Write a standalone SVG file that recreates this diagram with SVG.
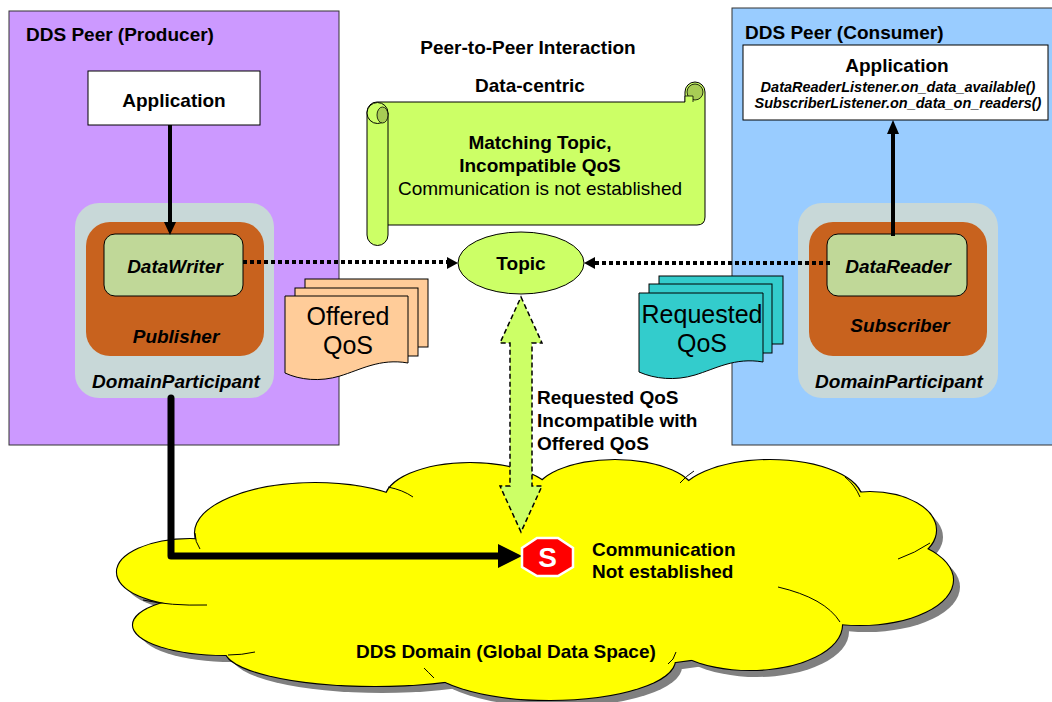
<svg xmlns="http://www.w3.org/2000/svg" width="1052" height="702" viewBox="0 0 1052 702">
<defs>
<style>
text{font-family:"Liberation Sans",Arial,sans-serif;fill:#000}
.b{font-weight:bold;font-size:19px}
.bi{font-weight:bold;font-style:italic;font-size:19px}
.sm{font-weight:bold;font-style:italic;font-size:14.5px}
.big{font-size:25px}
.c{text-anchor:middle}
.ln{stroke:#000;stroke-width:1;fill:none}
.dp{fill:#C8D8D8}
.pub{fill:#C8621E}
.ent{fill:#C0D898;stroke:#000;stroke-width:1}
.dot{stroke:#000;stroke-width:4;stroke-dasharray:4 3;fill:none}
</style>
</defs>

<g id="producer-peer">
<rect x="9" y="11" width="330" height="434" fill="#CC99FF" stroke="#333" stroke-width="1"/>
<text class="b" x="26" y="41">DDS Peer (Producer)</text>
</g>

<g id="consumer-peer">
<rect x="732" y="8" width="322" height="437" fill="#99CCFF" stroke="#333" stroke-width="1"/>
<text class="b" x="745" y="39">DDS Peer (Consumer)</text>
</g>

<g id="title">
<text class="b c" x="528" y="54">Peer-to-Peer Interaction</text>
<text class="b c" x="530" y="92">Data-centric</text>
</g>

<g id="scroll">
<path d="M377,102 L685,102 L685,92 A10,10 0 0 1 705,92 L705,217 Q705,225 697,225 L388,225 L388,235 A10.5,10.5 0 0 1 367,235 L367,112 A10,10 0 0 1 377,102 Z" fill="#CCFF66" stroke="#000" stroke-width="1"/>
<line class="ln" x1="388" y1="113" x2="388" y2="225"/>
<circle cx="377.5" cy="113" r="10.5" fill="#CCFF66" stroke="#000" stroke-width="1"/>
<ellipse cx="382.5" cy="115" rx="5.5" ry="8" fill="#A8CC55" stroke="#000" stroke-width="0.8"/>
<circle cx="695" cy="92" r="8" fill="#A8CC55" stroke="#000" stroke-width="0.8"/>
<path d="M685,102 L685,96 L693,96 L693,102" fill="#CCFF66" stroke="#000" stroke-width="0.8"/>
<text class="b c" x="540" y="149">Matching Topic,</text>
<text class="b c" x="540" y="172">Incompatible QoS</text>
<text class="c" x="540" y="195" style="font-size:19px">Communication is not established</text>
</g>

<g id="cloud">
<g fill="#808080" transform="translate(7,7)">
<ellipse cx="190" cy="572" rx="73" ry="33"/>
<ellipse cx="315" cy="533" rx="120" ry="50"/>
<ellipse cx="225" cy="625" rx="92" ry="30"/>
<ellipse cx="375" cy="650" rx="150" ry="36"/>
<ellipse cx="550" cy="660" rx="125" ry="40"/>
<ellipse cx="470" cy="500" rx="85" ry="37"/>
<ellipse cx="615" cy="495" rx="80" ry="35"/>
<ellipse cx="770" cy="500" rx="92" ry="40"/>
<ellipse cx="870" cy="530" rx="66" ry="38"/>
<ellipse cx="860" cy="580" rx="93" ry="45"/>
<ellipse cx="750" cy="625" rx="92" ry="45"/>
<ellipse cx="540" cy="580" rx="330" ry="90"/>
</g>
<g fill="#000" stroke="#000" stroke-width="2.2">
<ellipse cx="190" cy="572" rx="73" ry="33"/>
<ellipse cx="315" cy="533" rx="120" ry="50"/>
<ellipse cx="225" cy="625" rx="92" ry="30"/>
<ellipse cx="375" cy="650" rx="150" ry="36"/>
<ellipse cx="550" cy="660" rx="125" ry="40"/>
<ellipse cx="470" cy="500" rx="85" ry="37"/>
<ellipse cx="615" cy="495" rx="80" ry="35"/>
<ellipse cx="770" cy="500" rx="92" ry="40"/>
<ellipse cx="870" cy="530" rx="66" ry="38"/>
<ellipse cx="860" cy="580" rx="93" ry="45"/>
<ellipse cx="750" cy="625" rx="92" ry="45"/>
<ellipse cx="540" cy="580" rx="330" ry="90"/>
</g>
<g fill="#FFFF00">
<ellipse cx="190" cy="572" rx="73" ry="33"/>
<ellipse cx="315" cy="533" rx="120" ry="50"/>
<ellipse cx="225" cy="625" rx="92" ry="30"/>
<ellipse cx="375" cy="650" rx="150" ry="36"/>
<ellipse cx="550" cy="660" rx="125" ry="40"/>
<ellipse cx="470" cy="500" rx="85" ry="37"/>
<ellipse cx="615" cy="495" rx="80" ry="35"/>
<ellipse cx="770" cy="500" rx="92" ry="40"/>
<ellipse cx="870" cy="530" rx="66" ry="38"/>
<ellipse cx="860" cy="580" rx="93" ry="45"/>
<ellipse cx="750" cy="625" rx="92" ry="45"/>
<ellipse cx="540" cy="580" rx="330" ry="90"/>
</g>
<g class="ln">
<path d="M195,533 Q195,542 200,549"/>
<path d="M143,600 Q170,606 207,605"/>
<path d="M228,655 Q242,655 255,652"/>
<path d="M388,487 Q403,490 413,497"/>
<path d="M424,668 Q428,672 434,678"/>
<path d="M680,483 Q686,476 694,471"/>
<path d="M845,477 Q855,485 860,497"/>
<path d="M930,543 Q915,553 898,559"/>
<path d="M778,587 Q825,598 840,622"/>
<path d="M668,664 Q674,660 676,652"/>
</g>
<text class="b" x="356" y="658">DDS Domain (Global Data Space)</text>
</g>

<g id="producer-app">
<rect x="88" y="71" width="172" height="54" fill="#FFF" stroke="#000" stroke-width="1"/>
<text class="b c" x="174" y="107">Application</text>
</g>

<g id="consumer-app">
<rect x="743" y="45" width="305" height="75" fill="#FFF" stroke="#000" stroke-width="1"/>
<text class="b c" x="897" y="72">Application</text>
<text class="sm c" x="898" y="92">DataReaderListener.on_data_available()</text>
<text class="sm c" x="898" y="108">SubscriberListener.on_data_on_readers()</text>
</g>

<g id="producer-participant">
<rect class="dp" x="75" y="203" width="199" height="195" rx="24"/>
<text class="bi c" x="176" y="388">DomainParticipant</text>
<g id="publisher">
<rect class="pub" x="86" y="222" width="178" height="134" rx="24"/>
<text class="bi c" x="176" y="343">Publisher</text>
<g id="datawriter">
<rect class="ent" x="104" y="234" width="139" height="62" rx="11"/>
<text class="bi c" x="175" y="273">DataWriter</text>
</g>
</g>
</g>

<g id="consumer-participant">
<rect class="dp" x="798" y="203" width="200" height="195" rx="24"/>
<text class="bi c" x="899" y="388">DomainParticipant</text>
<g id="subscriber">
<rect class="pub" x="809" y="222" width="178" height="134" rx="24"/>
<text class="bi c" x="900" y="332">Subscriber</text>
<g id="datareader">
<rect class="ent" x="827" y="234" width="140" height="62" rx="11"/>
<text class="bi c" x="898" y="273">DataReader</text>
</g>
</g>
</g>

<g id="offered-qos" fill="#FFCC99" stroke="#000" stroke-width="1">
<rect x="305" y="279" width="123" height="68"/>
<rect x="295" y="288" width="123" height="68"/>
<path d="M285,296 H408 V363 C380,358 360,370 340,376 C320,382 300,380 285,373 Z"/>
<text class="big c" x="348" y="325" stroke="none" fill="#000">Offered</text>
<text class="big c" x="348" y="354" stroke="none" fill="#000">QoS</text>
</g>

<g id="requested-qos" fill="#33CCCC" stroke="#000" stroke-width="1">
<rect x="659" y="276" width="124" height="68"/>
<rect x="649" y="284" width="123" height="69"/>
<path d="M639,293 H763 V362 C735,357 715,369 695,375 C675,381 655,379 639,372 Z"/>
<text class="big c" x="702" y="323" stroke="none" fill="#000">Requested</text>
<text class="big c" x="702" y="352" stroke="none" fill="#000">QoS</text>
</g>

<g id="topic">
<ellipse cx="521" cy="263" rx="63" ry="31" fill="#CCFF66" stroke="#000" stroke-width="1"/>
<text class="b c" x="521" y="270">Topic</text>
</g>

<g id="connectors">
<line x1="170" y1="125" x2="170" y2="224" stroke="#000" stroke-width="4"/>
<polygon points="170,235 164,222 176,222" fill="#000"/>
<line x1="893" y1="236" x2="893" y2="132" stroke="#000" stroke-width="4"/>
<polygon points="893,120 887,134 899,134" fill="#000"/>
<line class="dot" x1="243" y1="262" x2="448" y2="262"/>
<polygon points="458,263 447,257 447,269" fill="#000"/>
<line class="dot" x1="830" y1="263" x2="595" y2="263"/>
<polygon points="584,263 595,257 595,269" fill="#000"/>
<polygon points="521,297 542,343 532,343 532,486 542,486 521,532 500,486 510,486 510,343 500,343" fill="#CCFF66" stroke="#000" stroke-width="1.5" stroke-dasharray="5 3"/>
<text class="b" x="537" y="404">Requested QoS</text>
<text class="b" x="537" y="427">Incompatible with</text>
<text class="b" x="537" y="450">Offered QoS</text>
<path d="M171,398 L171,556 L500,556" fill="none" stroke="#000" stroke-width="7" stroke-linecap="round" stroke-linejoin="round"/>
<polygon points="522,556 498,544 498,568" fill="#000"/>
</g>

<g id="stop">
<polygon points="537,538 558,538 573,548 573,567 558,576 537,576 522,567 522,548" fill="#FF0000" stroke="#FFF" stroke-width="2.5"/>
<text class="c" x="547.5" y="567" style="font-weight:bold;font-size:28px;fill:#FFF">S</text>
<text class="b" x="592" y="556">Communication</text>
<text class="b" x="592" y="578">Not established</text>
</g>
</svg>
